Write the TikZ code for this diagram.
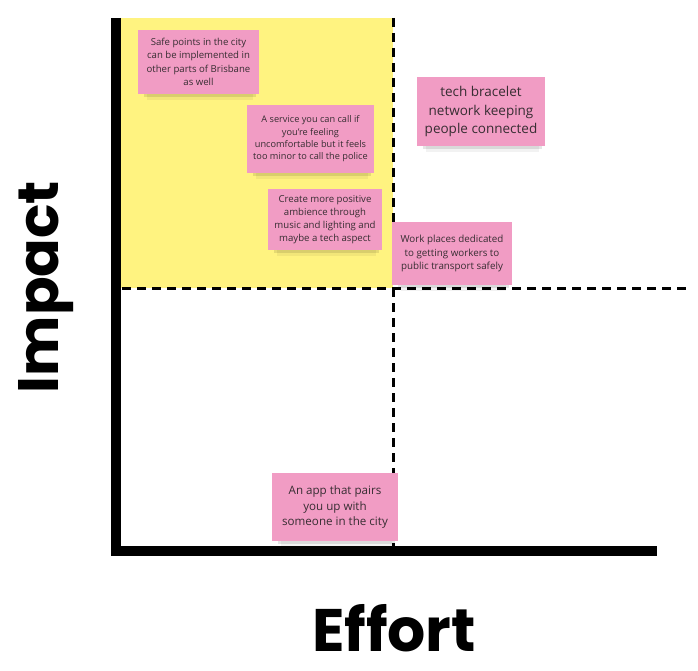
\documentclass[tikz,border=0pt]{standalone}
\usepackage{fontspec}
\setmainfont{Open Sans}
\newfontfamily\axisfont{Poppins}
\definecolor{stickypink}{RGB}{241,156,196}
\definecolor{zoneyellow}{RGB}{255,243,128}
\definecolor{notetext}{RGB}{55,45,50}
\tikzset{
  note/.style={fill=stickypink, text=notetext, align=center, inner sep=0pt},
  axisline/.style={line width=10pt},
  divider/.style={line width=3pt, dash pattern=on 9pt off 6pt},
  axislabel/.style={font=\axisfont\bfseries\fontsize{60}{60}\selectfont}
}
\begin{document}
\begin{tikzpicture}[x=1pt, y=-1pt]
  \useasboundingbox (0,0) rectangle (698,671);
  \fill[white] (0,0) rectangle (698,671);
  % high-impact / low-effort quadrant
  \fill[zoneyellow] (118,18) rectangle (393,288);
  % quadrant dividers
  \coordinate (vtop) at (393,18);
  \coordinate (vbot) at (393,546);
  \coordinate (hleft) at (122,288);
  \coordinate (hright) at (690,288);
  \draw[divider] (vtop) -- (vbot);
  \draw[divider] (hleft) -- (hright);
  % axes
  \coordinate (ytop) at (116,18);
  \coordinate (ybot) at (116,556);
  \coordinate (xstart) at (111,551);
  \coordinate (xend) at (657,551);
  \draw[axisline] (ytop) -- (ybot);
  \draw[axisline] (xstart) -- (xend);
  % sticky note paper with a soft shadow under its lower edge
  \foreach \nm/\xa/\ya/\xb/\yb in {a/138/30/259/94, b/247/105/374/173, c/268/189/382/250,
      d/417/77/545/146, e/392/222/512/285, f/272/473/398/541} {
    \fill[black, opacity=0.10] (\xa+6,\yb-3) rectangle (\xb-3,\yb+3);
    \fill[black, opacity=0.05] (\xa+9,\yb) rectangle (\xb-6,\yb+6);
    \fill[stickypink] (\xa,\ya) rectangle (\xb,\yb);
    \coordinate (\nm) at ({(\xa+\xb)/2},{(\ya+\yb)/2});
  }
  \node[note, font=\fontsize{9.6}{13.3}\selectfont] (safe) at (a)
    {Safe points in the city\\can be implemented in\\other parts of Brisbane\\as well};
  \node[note, font=\fontsize{9.2}{12.3}\selectfont] (service) at (b)
    {A service you can call if\\you're feeling\\uncomfortable but it feels\\too minor to call the police};
  \node[note, font=\fontsize{9.6}{13}\selectfont] (ambience) at (c)
    {Create more positive\\ambience through\\music and lighting and\\maybe a tech aspect};
  \node[note, font=\fontsize{13.5}{18.3}\selectfont] (bracelet) at (d)
    {tech bracelet\\network keeping\\people connected};
  \node[note, font=\fontsize{9.8}{13.5}\selectfont] (work) at (e)
    {Work places dedicated\\to getting workers to\\public transport safely};
  \node[note, font=\fontsize{11.6}{15.8}\selectfont] (app) at (f)
    {An app that pairs\\you up with\\someone in the city};
  % axis labels
  \node[axislabel, font=\axisfont\bfseries\fontsize{57}{57}\selectfont, rotate=90] (impact) at (46,287) {Impact};
  \node[axislabel] (effort) at (394,628) {Effort};
\end{tikzpicture}
\end{document}
